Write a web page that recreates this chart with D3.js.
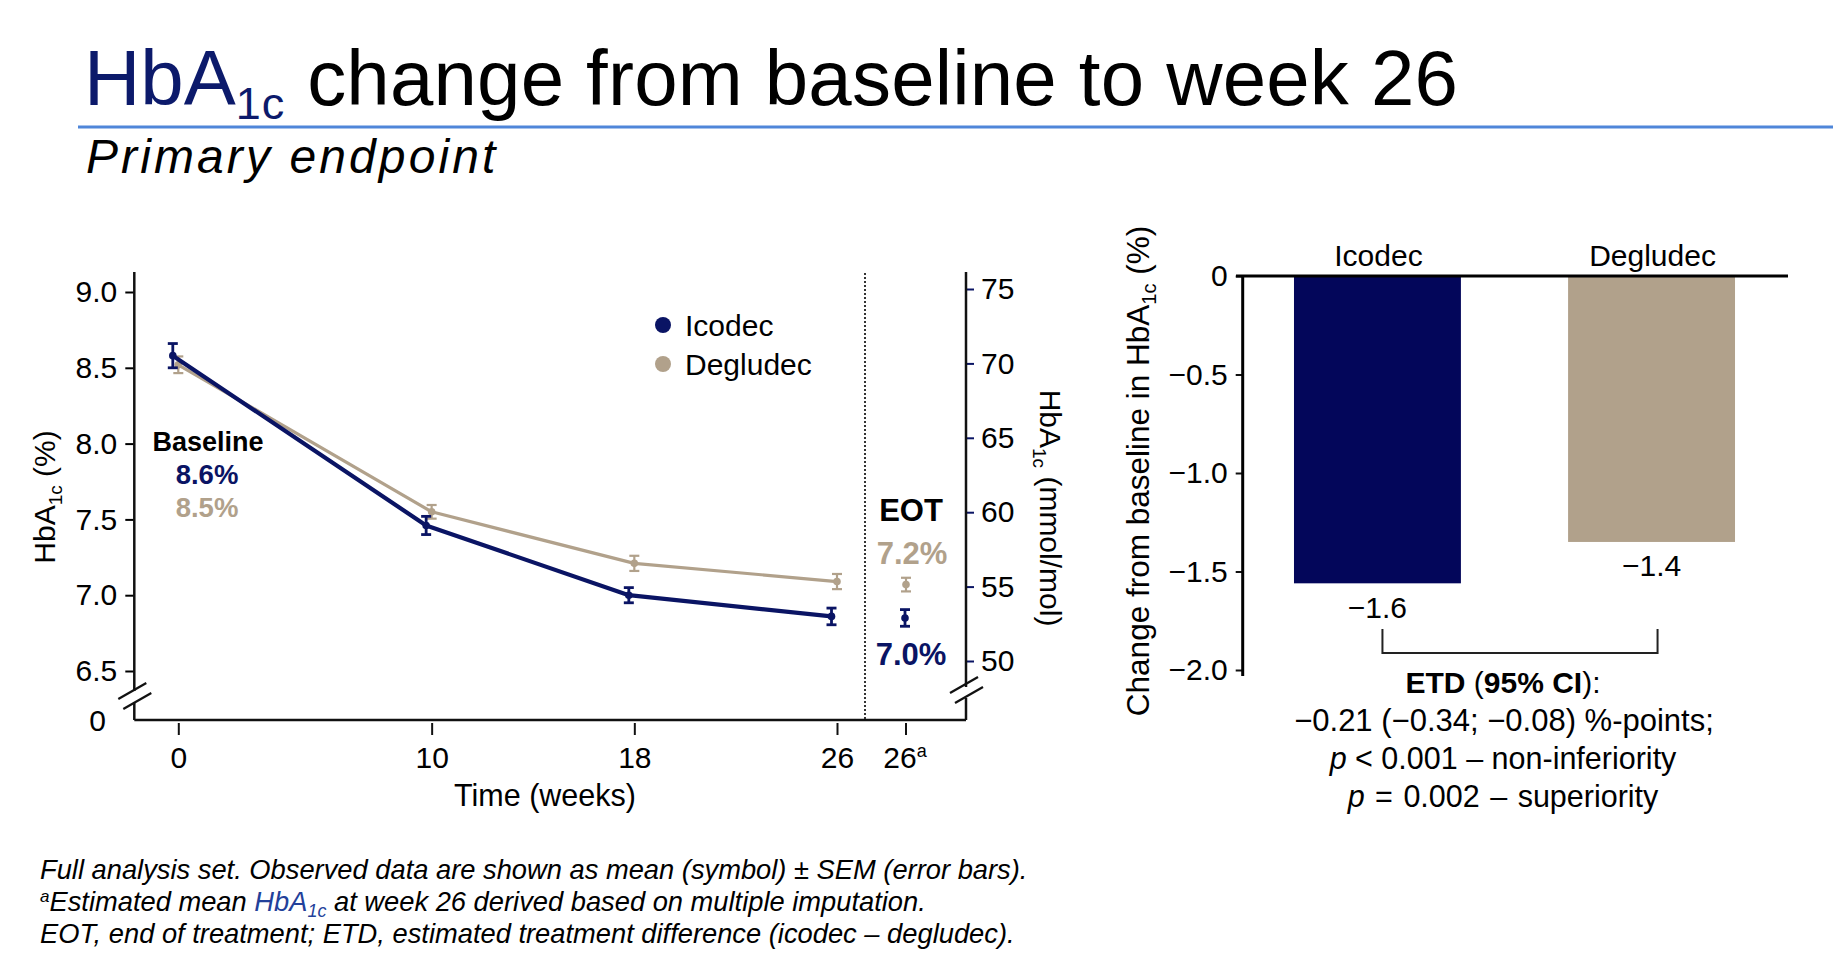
<!DOCTYPE html>
<html>
<head>
<meta charset="utf-8">
<script src="https://cdn.jsdelivr.net/npm/d3@7"></script>
<style>
  html, body { margin: 0; padding: 0; background: #fff; }
  svg { display: block; font-family: "Liberation Sans", Arial, Helvetica, sans-serif; }
</style>
</head>
<body>
<svg id="chart" width="1833" height="976"></svg>
<script>
// ---------------- DATA ----------------
const weeks = [0, 10, 18, 26];
const xTickLabels = ["0", "10", "18", "26"];
const eotTickLabel = "26";
const icodecMean = [8.58, 7.46, 7.00, 6.86];
const icodecSEM  = [0.08, 0.06, 0.05, 0.055];
const degludecMean = [8.52, 7.55, 7.21, 7.09];
const degludecSEM  = [0.055, 0.045, 0.05, 0.05];
const eotMean = [6.85, 7.07];       // icodec, degludec (estimated, week 26a)
const eotSEM  = [0.055, 0.045];
const yTicksPct  = [6.5, 7.0, 7.5, 8.0, 8.5, 9.0];
const yTicksMmol = [50, 55, 60, 65, 70, 75];
const baselineLabels = ["8.6%", "8.5%"];
const eotLabels = ["7.2%", "7.0%"];
const seriesNames = ["Icodec", "Degludec"];

const barCategories = ["Icodec", "Degludec"];
const barValues = [-1.56, -1.35];
const barLabels = ["\u22121.6", "\u22121.4"];
const barTicks = [0, -0.5, -1.0, -1.5, -2.0];
const etdLines = ["\u22120.21 (\u22120.34; \u22120.08) %-points;"];

// ---------------- STYLE ----------------
const NAVY = "#0a1464";
const NAVY_BAR = "#03065a";
const TAN = "#b1a18b";
const TITLE_NAVY = "#0c1a6b";
const FN_BLUE = "#23419a";

const svg = d3.select("#chart");
svg.append("rect").attr("width", 1833).attr("height", 976).attr("fill", "#fff");

// ---------------- TITLE ----------------
const title = svg.append("text").attr("x", 84).attr("y", 105).attr("font-size", 78);
title.append("tspan").attr("fill", TITLE_NAVY).text("HbA");
title.append("tspan").attr("fill", TITLE_NAVY).attr("font-size", 45).attr("dy", 14).attr("letter-spacing", 1).text("1c");
title.append("tspan").attr("fill", "#000").attr("dy", -14).attr("letter-spacing", 0.2).text(" change from baseline to week 26");

svg.append("line").attr("x1", 78).attr("x2", 1833).attr("y1", 127).attr("y2", 127)
  .attr("stroke", "#4f86d9").attr("stroke-width", 3);

svg.append("text").attr("x", 86).attr("y", 173).attr("font-size", 48).attr("letter-spacing", 3.1)
  .attr("font-style", "italic").attr("fill", "#000").text("Primary endpoint");

// ---------------- LINE CHART ----------------
const x = d3.scaleLinear().domain([0, 26]).range([178.3, 837]);
const xEOT = x(26) + 69;
const y = d3.scaleLinear().domain([6.5, 9.0]).range([671, 292]);
const yM = d3.scaleLinear().domain([50, 75]).range([661, 289]);

const axL = 134.3, axR = 966, axB = 720, axTop = 272;
const brk1 = 691, brk2 = 702;

const lc = svg.append("g");

// left axis
const gL = lc.append("g").attr("transform", `translate(${axL},0)`)
  .call(d3.axisLeft(y).tickValues(yTicksPct).tickFormat(d3.format(".1f")).tickSize(9).tickPadding(8));
gL.select(".domain").remove();
gL.selectAll("text").attr("font-size", 30).attr("font-family", null).attr("fill", "#000");
gL.selectAll("line").attr("stroke", "#000").attr("stroke-width", 2);

// right axis
const gR = lc.append("g").attr("transform", `translate(${axR},0)`)
  .call(d3.axisRight(yM).tickValues(yTicksMmol).tickSize(8).tickPadding(7));
gR.select(".domain").remove();
gR.selectAll("text").attr("font-size", 30).attr("font-family", null).attr("fill", "#000");
gR.selectAll("line").attr("stroke", NAVY).attr("stroke-width", 2);

// axis lines with breaks
function vline(g, xx, y1, y2) {
  g.append("line").attr("x1", xx).attr("x2", xx).attr("y1", y1).attr("y2", y2)
    .attr("stroke", "#111").attr("stroke-width", 2.5);
}
vline(lc, axL, axTop, brk1);
vline(lc, axL, brk2, axB);
vline(lc, axR, axTop, brk1 - 4);
vline(lc, axR, brk2 - 4, axB);
function breakMark(g, cx, cy) {
  [[cx - 2, cy], [cx + 3, cy + 10]].forEach(([px, py]) => {
    g.append("line").attr("x1", px - 14).attr("y1", py + 8).attr("x2", px + 14).attr("y2", py - 8)
      .attr("stroke", "#111").attr("stroke-width", 2.2);
  });
}
breakMark(lc, axL, brk1);
breakMark(lc, axR, brk1 - 6);

// x axis line
lc.append("line").attr("x1", axL).attr("x2", axR).attr("y1", axB).attr("y2", axB)
  .attr("stroke", "#111").attr("stroke-width", 2.5);
lc.append("text").attr("x", 106).attr("y", axB + 11).attr("text-anchor", "end")
  .attr("font-size", 30).text("0");

const gX = lc.append("g").attr("transform", `translate(0,${axB + 3})`)
  .call(d3.axisBottom(x).tickValues(weeks).tickFormat((d, i) => xTickLabels[i]).tickSize(12).tickPadding(12));
gX.select(".domain").remove();
gX.selectAll("text").attr("font-size", 30).attr("font-family", null).attr("fill", "#000");
gX.selectAll("line").attr("stroke", "#111").attr("stroke-width", 2);

// EOT tick
lc.append("line").attr("x1", xEOT).attr("x2", xEOT).attr("y1", axB + 3).attr("y2", axB + 15)
  .attr("stroke", "#111").attr("stroke-width", 2);
const eotT = lc.append("text").attr("x", xEOT - 1).attr("y", 768).attr("text-anchor", "middle").attr("font-size", 30);
eotT.append("tspan").text(eotTickLabel);
eotT.append("tspan").attr("font-size", 18).attr("dy", -11).text("a");

lc.append("text").attr("x", 545).attr("y", 806).attr("text-anchor", "middle")
  .attr("font-size", 30.5).text("Time (weeks)");

// dotted EOT separator
lc.append("line").attr("x1", 865).attr("x2", 865).attr("y1", 273).attr("y2", axB)
  .attr("stroke", "#333").attr("stroke-width", 2).attr("stroke-dasharray", "2,2");

// axis titles
const tl = lc.append("text").attr("transform", "translate(44,497) rotate(-90)")
  .attr("text-anchor", "middle").attr("dy", "0.35em").attr("font-size", 30);
tl.append("tspan").text("HbA");
tl.append("tspan").attr("font-size", 19).attr("dy", 7).text("1c");
tl.append("tspan").attr("dy", -7).text(" (%)");

const tr = lc.append("text").attr("transform", "translate(1050,508) rotate(90)")
  .attr("text-anchor", "middle").attr("dy", "0.35em").attr("font-size", 30);
tr.append("tspan").text("HbA");
tr.append("tspan").attr("font-size", 19).attr("dy", 7).text("1c");
tr.append("tspan").attr("dy", -7).text(" (mmol/mol)");

// series
const series = [
  { name: seriesNames[1], mean: degludecMean, sem: degludecSEM, color: TAN, lw: 3.2, ew: 2.2, off: 0, eot: 1 },
  { name: seriesNames[0], mean: icodecMean, sem: icodecSEM, color: NAVY, lw: 4.2, ew: 2.8, off: -5.5, eot: 0 }
];
const line = d3.line().x(d => d.x).y(d => y(d.v));
series.forEach(s => {
  const pts = weeks.map((w, i) => ({ x: x(w) + s.off, v: s.mean[i], e: s.sem[i] }));
  lc.append("path").datum(pts).attr("d", line).attr("fill", "none")
    .attr("stroke", s.color).attr("stroke-width", s.lw).attr("stroke-linejoin", "round");
  const all = pts.concat([{ x: xEOT + (s.eot === 0 ? -1 : 0), v: eotMean[s.eot], e: eotSEM[s.eot] }]);
  const eb = lc.append("g").selectAll("g").data(all).join("g");
  eb.append("line").attr("x1", d => d.x).attr("x2", d => d.x)
    .attr("y1", d => y(d.v + d.e)).attr("y2", d => y(d.v - d.e))
    .attr("stroke", s.color).attr("stroke-width", s.ew);
  [1, -1].forEach(sg => {
    eb.append("line").attr("x1", d => d.x - 5).attr("x2", d => d.x + 5)
      .attr("y1", d => y(d.v + sg * d.e)).attr("y2", d => y(d.v + sg * d.e))
      .attr("stroke", s.color).attr("stroke-width", s.ew);
  });
  eb.append("circle").attr("cx", d => d.x).attr("cy", d => y(d.v)).attr("r", 3.8).attr("fill", s.color);
});

// legend
[[seriesNames[0], NAVY, 325], [seriesNames[1], TAN, 364]].forEach(([n, c, yy]) => {
  lc.append("circle").attr("cx", 663).attr("cy", yy).attr("r", 8).attr("fill", c);
  lc.append("text").attr("x", 685).attr("y", yy + 10.5).attr("font-size", 30).text(n);
});

// baseline / EOT annotations
lc.append("text").attr("x", 208).attr("y", 451).attr("text-anchor", "middle")
  .attr("font-size", 27).attr("font-weight", "bold").text("Baseline");
lc.append("text").attr("x", 207).attr("y", 484).attr("text-anchor", "middle")
  .attr("font-size", 27.5).attr("font-weight", "bold").attr("fill", NAVY).text(baselineLabels[0]);
lc.append("text").attr("x", 207).attr("y", 517).attr("text-anchor", "middle")
  .attr("font-size", 27.5).attr("font-weight", "bold").attr("fill", TAN).text(baselineLabels[1]);

lc.append("text").attr("x", 911).attr("y", 521).attr("text-anchor", "middle")
  .attr("font-size", 31).attr("font-weight", "bold").text("EOT");
lc.append("text").attr("x", 912).attr("y", 564).attr("text-anchor", "middle")
  .attr("font-size", 31).attr("font-weight", "bold").attr("fill", TAN).text(eotLabels[0]);
lc.append("text").attr("x", 911).attr("y", 665).attr("text-anchor", "middle")
  .attr("font-size", 31).attr("font-weight", "bold").attr("fill", NAVY).text(eotLabels[1]);

// ---------------- BAR CHART ----------------
const bc = svg.append("g");
const bAx = 1242.7;
const yB = d3.scaleLinear().domain([-2, 0]).range([670, 276]);
const xB = d3.scaleBand().domain(barCategories).range([1243, 1786]).paddingInner(0.391).paddingOuter(0.186);
const barColors = [NAVY_BAR, TAN];

bc.selectAll("rect.bar").data(barValues).join("rect").attr("class", "bar")
  .attr("x", (d, i) => xB(barCategories[i])).attr("width", xB.bandwidth())
  .attr("y", yB(0)).attr("height", d => yB(d) - yB(0))
  .attr("fill", (d, i) => barColors[i]);

const gB = bc.append("g").attr("transform", `translate(${bAx},0)`)
  .call(d3.axisLeft(yB).tickValues(barTicks).tickFormat(d => d === 0 ? "0" : d3.format(".1f")(d)).tickSize(7).tickPadding(8));
gB.select(".domain").remove();
gB.selectAll("text").attr("font-size", 30).attr("font-family", null).attr("fill", "#000");
gB.selectAll("line").attr("stroke", "#111").attr("stroke-width", 2);

bc.append("line").attr("x1", bAx).attr("x2", bAx).attr("y1", yB(0)).attr("y2", 676)
  .attr("stroke", "#000").attr("stroke-width", 3);
bc.append("line").attr("x1", 1236).attr("x2", 1788).attr("y1", yB(0)).attr("y2", yB(0))
  .attr("stroke", "#000").attr("stroke-width", 3);

bc.selectAll("text.cat").data(barCategories).join("text").attr("class", "cat")
  .attr("x", d => xB(d) + xB.bandwidth() / 2 + 1).attr("y", 266).attr("text-anchor", "middle")
  .attr("font-size", 30).text(d => d);

bc.selectAll("text.val").data(barValues).join("text").attr("class", "val")
  .attr("x", (d, i) => xB(barCategories[i]) + xB.bandwidth() / 2).attr("y", d => yB(d) + 34.5)
  .attr("text-anchor", "middle").attr("font-size", 30).text((d, i) => barLabels[i]);

// bracket
const c1 = xB(barCategories[0]) + xB.bandwidth() / 2 + 5;
const c2 = xB(barCategories[1]) + xB.bandwidth() / 2 + 6;
bc.append("path").attr("d", `M${c1},629 V653 H${c2} V629`).attr("fill", "none")
  .attr("stroke", "#222").attr("stroke-width", 2);

// ETD text
const etdX = 1503;
const t1 = bc.append("text").attr("x", etdX).attr("y", 693).attr("text-anchor", "middle").attr("font-size", 30);
t1.append("tspan").attr("font-weight", "bold").text("ETD");
t1.append("tspan").text(" (");
t1.append("tspan").attr("font-weight", "bold").text("95% CI");
t1.append("tspan").text("):");
bc.append("text").attr("x", etdX + 1).attr("y", 731).attr("text-anchor", "middle").attr("font-size", 31).text(etdLines[0]);
const t3 = bc.append("text").attr("x", etdX).attr("y", 769).attr("text-anchor", "middle").attr("font-size", 30.5);
t3.append("tspan").attr("font-style", "italic").text("p");
t3.append("tspan").text(" < 0.001 \u2013 non-inferiority");
const t4 = bc.append("text").attr("x", etdX).attr("y", 807).attr("text-anchor", "middle").attr("font-size", 30.5).attr("word-spacing", 2);
t4.append("tspan").attr("font-style", "italic").text("p");
t4.append("tspan").text(" = 0.002 \u2013 superiority");

// bar y-axis title
const tb = bc.append("text").attr("transform", "translate(1138,471) rotate(-90)")
  .attr("text-anchor", "middle").attr("dy", "0.35em").attr("font-size", 31.5);
tb.append("tspan").text("Change from baseline in HbA");
tb.append("tspan").attr("font-size", 20).attr("dy", 7).text("1c");
tb.append("tspan").attr("dy", -7).text(" (%)");

// ---------------- FOOTNOTES ----------------
const fn = svg.append("g").attr("font-size", 27.3).attr("font-style", "italic");
fn.append("text").attr("x", 40).attr("y", 879)
  .text("Full analysis set. Observed data are shown as mean (symbol) \u00b1 SEM (error bars).");
const f2 = fn.append("text").attr("x", 40).attr("y", 911);
f2.append("tspan").attr("font-size", 17).attr("dy", -9).text("a");
f2.append("tspan").attr("dy", 9).text("Estimated mean ");
f2.append("tspan").attr("fill", FN_BLUE).text("HbA");
f2.append("tspan").attr("fill", FN_BLUE).attr("font-size", 18).attr("dy", 6).text("1c");
f2.append("tspan").attr("dy", -6).text(" at week 26 derived based on multiple imputation.");
fn.append("text").attr("x", 40).attr("y", 943)
  .text("EOT, end of treatment; ETD, estimated treatment difference (icodec \u2013 degludec).");
</script>
</body>
</html>
